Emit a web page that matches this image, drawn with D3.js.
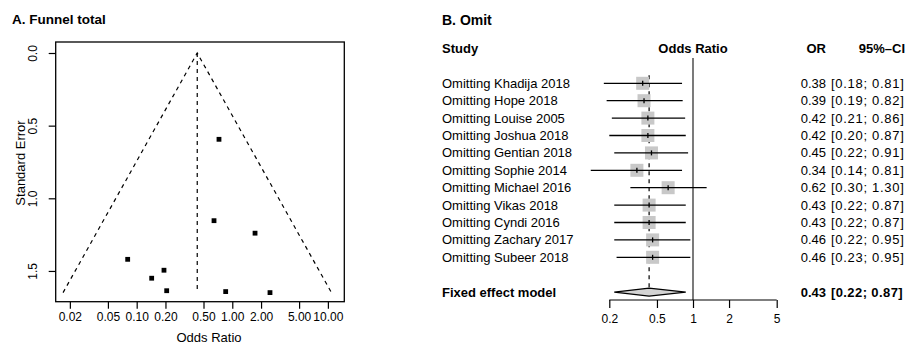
<!DOCTYPE html>
<html>
<head>
<meta charset="utf-8">
<script src="https://cdn.jsdelivr.net/npm/d3@7"></script>
<style>
  body { margin: 0; background: #fff; }
  svg { font-family: "Liberation Sans", Arial, Helvetica, sans-serif; }
</style>
</head>
<body>
<div id="chart"></div>
<script>
// Panel A - funnel data
const funnelOR = [0.726, 0.644, 1.73, 0.0805, 0.193, 0.1435, 0.206, 0.853, 2.48];
const funnelSE = [0.594, 1.154, 1.240, 1.42, 1.495, 1.55, 1.636, 1.642, 1.649];
const pooledOR = 0.43;
const funnelXTicks = [0.02, 0.05, 0.1, 0.2, 0.5, 1, 2, 5, 10];
const funnelYTicks = [0, 0.5, 1, 1.5];

// Panel B - leave-one-out data
const studies = ['Khadija 2018', 'Hope 2018', 'Louise 2005', 'Joshua 2018', 'Gentian 2018',
  'Sophie 2014', 'Michael 2016', 'Vikas 2018', 'Cyndi 2016', 'Zachary 2017', 'Subeer 2018'];
const omitOR = [0.38, 0.39, 0.42, 0.42, 0.45, 0.34, 0.62, 0.43, 0.43, 0.46, 0.46];
const omitLower = [0.18, 0.19, 0.21, 0.20, 0.22, 0.14, 0.30, 0.22, 0.22, 0.22, 0.23];
const omitUpper = [0.81, 0.82, 0.86, 0.87, 0.91, 0.81, 1.30, 0.87, 0.87, 0.95, 0.95];
const fixedOR = 0.43, fixedLower = 0.22, fixedUpper = 0.87;
const forestTicks = [0.2, 0.5, 1, 2, 5];

const width = 908, height = 344;
const svg = d3.select('#chart').append('svg')
  .attr('width', width).attr('height', height);

const f2 = d3.format('.2f');

// ---------- Panel A ----------
svg.append('text')
  .attr('x', 12).attr('y', 24)
  .style('font-size', '13.5px').style('font-weight', 'bold')
  .text('A. Funnel total');

const box = { left: 55.7, right: 344.3, top: 42, bottom: 301.7 };
const x = d3.scaleLog().domain([0.01422, 14.85]).range([box.left, box.right]);
const y = d3.scaleLinear().domain([-0.0757, 1.7116]).range([box.top, box.bottom]);

const gA = svg.append('g');

// funnel contour (pooled estimate +/- 1.96 SE)
const seMax = d3.max(funnelSE);
const lnP = Math.log(pooledOR);
const funnelPts = [
  [Math.exp(lnP - 1.96 * seMax), seMax],
  [pooledOR, 0],
  [Math.exp(lnP + 1.96 * seMax), seMax]
];
gA.append('path')
  .attr('d', d3.line().x(d => x(d[0])).y(d => y(d[1]))(funnelPts))
  .attr('fill', 'none').attr('stroke', '#000').attr('stroke-width', 1.2)
  .attr('stroke-dasharray', '4,4');

gA.append('line')
  .attr('x1', x(pooledOR)).attr('x2', x(pooledOR))
  .attr('y1', y(0)).attr('y2', y(seMax))
  .attr('stroke', '#000').attr('stroke-width', 1.2)
  .attr('stroke-dasharray', '4,4');

// study points
gA.selectAll('.pt')
  .data(funnelOR.map((o, i) => ({ or: o, se: funnelSE[i] })))
  .enter().append('rect')
  .attr('class', 'pt')
  .attr('x', d => x(d.or) - 2.4).attr('y', d => y(d.se) - 2.4)
  .attr('width', 4.8).attr('height', 4.8)
  .attr('fill', '#000');

// box
gA.append('rect')
  .attr('x', box.left).attr('y', box.top)
  .attr('width', box.right - box.left).attr('height', box.bottom - box.top)
  .attr('fill', 'none').attr('stroke', '#000').attr('stroke-width', 1.3);

// axes
const xAxis = d3.axisBottom(x).tickValues(funnelXTicks).tickFormat(f2).tickSize(7).tickPadding(4);
const gx = gA.append('g').attr('transform', `translate(0,${box.bottom})`).call(xAxis);
gx.select('.domain').remove();
gx.selectAll('text').style('font-size', '12px').attr('fill', '#000');

const yAxis = d3.axisLeft(y).tickValues(funnelYTicks).tickFormat(d3.format('.1f')).tickSize(7);
const gy = gA.append('g').attr('transform', `translate(${box.left},0)`).call(yAxis);
gy.select('.domain').remove();
gy.selectAll('text')
  .attr('x', null).attr('dy', null)
  .attr('text-anchor', 'middle')
  .attr('transform', `translate(${33 - box.left},0) rotate(-90)`)
  .attr('y', 0).attr('dy', '0.35em')
  .style('font-size', '12px').attr('fill', '#000');
svg.selectAll('.tick line').attr('stroke', '#000').attr('stroke-width', 1.2);

gA.append('text')
  .attr('x', 209).attr('y', 342)
  .attr('text-anchor', 'middle')
  .style('font-size', '13px')
  .text('Odds Ratio');

gA.append('text')
  .attr('transform', 'translate(20,163) rotate(-90)')
  .attr('text-anchor', 'middle').attr('dy', '0.35em')
  .style('font-size', '13px')
  .text('Standard Error');

// ---------- Panel B ----------
svg.append('text')
  .attr('x', 442).attr('y', 25)
  .style('font-size', '14px').style('font-weight', 'bold')
  .text('B. Omit');

const fx = d3.scaleLog().domain([0.2, 5]).range([609.3, 776.7]);
const row = d3.scaleLinear().domain([0, 12]).range([83.3, 292.1]);
const axisY = 300;

const gB = svg.append('g');

// headers
const headerY = row(-2);
const header = [
  { t: 'Study', x: 442, a: 'start' },
  { t: 'Odds Ratio', x: fx(1), a: 'middle' },
  { t: 'OR', x: 826, a: 'end' },
  { t: '95%\u2013CI', x: 905, a: 'end' }
];
gB.selectAll('.hdr').data(header).enter().append('text')
  .attr('x', d => d.x).attr('y', headerY).attr('dy', '0.35em')
  .attr('text-anchor', d => d.a)
  .style('font-size', '13px').style('font-weight', 'bold')
  .text(d => d.t);

// reference line at 1
gB.append('line')
  .attr('x1', fx(1)).attr('x2', fx(1))
  .attr('y1', 58).attr('y2', axisY)
  .attr('stroke', '#333').attr('stroke-width', 1.3);

// fixed effect dashed line
gB.append('line')
  .attr('x1', fx(fixedOR)).attr('x2', fx(fixedOR))
  .attr('y1', row(0) - 8).attr('y2', row(12) - 4)
  .attr('stroke', '#000').attr('stroke-width', 1.2)
  .attr('stroke-dasharray', '4,4');

const rows = studies.map((s, i) => ({
  name: 'Omitting ' + s, or: omitOR[i], lo: omitLower[i], hi: omitUpper[i], i
}));

const rg = gB.selectAll('.row').data(rows).enter().append('g').attr('class', 'row');

const sq = 13;
rg.append('rect')
  .attr('x', d => fx(d.or) - sq / 2).attr('y', d => row(d.i) - sq / 2)
  .attr('width', sq).attr('height', sq)
  .attr('fill', '#c8c8c8');

rg.append('line')
  .attr('x1', d => fx(d.lo)).attr('x2', d => fx(d.hi))
  .attr('y1', d => row(d.i)).attr('y2', d => row(d.i))
  .attr('stroke', '#000').attr('stroke-width', 1.3);

rg.append('line')
  .attr('x1', d => fx(d.or)).attr('x2', d => fx(d.or))
  .attr('y1', d => row(d.i) - 2.5).attr('y2', d => row(d.i) + 2.5)
  .attr('stroke', '#000').attr('stroke-width', 1.3);

rg.append('text')
  .attr('x', 442).attr('y', d => row(d.i)).attr('dy', '0.35em')
  .style('font-size', '13px')
  .text(d => d.name);

rg.append('text')
  .attr('x', 826).attr('y', d => row(d.i)).attr('dy', '0.35em')
  .attr('text-anchor', 'end')
  .style('font-size', '13px')
  .text(d => f2(d.or));

rg.append('text')
  .attr('x', 831).attr('y', d => row(d.i)).attr('dy', '0.35em')
  .style('font-size', '13px').style('letter-spacing', '0.7px')
  .text(d => `[${f2(d.lo)}; ${f2(d.hi)}]`);

// fixed effect row
const fy = row(12);
gB.append('path')
  .attr('d', `M${fx(fixedLower)},${fy} L${fx(fixedOR)},${fy - 4} L${fx(fixedUpper)},${fy} L${fx(fixedOR)},${fy + 4} Z`)
  .attr('fill', '#d3d3d3').attr('stroke', '#000').attr('stroke-width', 1.1);

gB.append('text')
  .attr('x', 442).attr('y', fy).attr('dy', '0.35em')
  .style('font-size', '13px').style('font-weight', 'bold')
  .text('Fixed effect model');
gB.append('text')
  .attr('x', 826).attr('y', fy).attr('dy', '0.35em')
  .attr('text-anchor', 'end')
  .style('font-size', '13px').style('font-weight', 'bold')
  .text(f2(fixedOR));
gB.append('text')
  .attr('x', 831).attr('y', fy).attr('dy', '0.35em')
  .style('font-size', '13px').style('font-weight', 'bold').style('letter-spacing', '0.4px')
  .text(`[${f2(fixedLower)}; ${f2(fixedUpper)}]`);

// forest axis
const fAxis = d3.axisBottom(fx).tickValues(forestTicks).tickFormat(d3.format('')).tickSize(8).tickSizeOuter(0).tickPadding(6);
const gfx = gB.append('g').attr('transform', `translate(0,${axisY})`).call(fAxis);
gfx.select('.domain').attr('stroke', '#000').attr('stroke-width', 1.2)
  .attr('d', `M${fx(0.2)},0H${fx(5)}`);
gfx.selectAll('.tick line').attr('stroke', '#000').attr('stroke-width', 1.2);
gfx.selectAll('text').style('font-size', '12px').attr('fill', '#000');
</script>
</body>
</html>
